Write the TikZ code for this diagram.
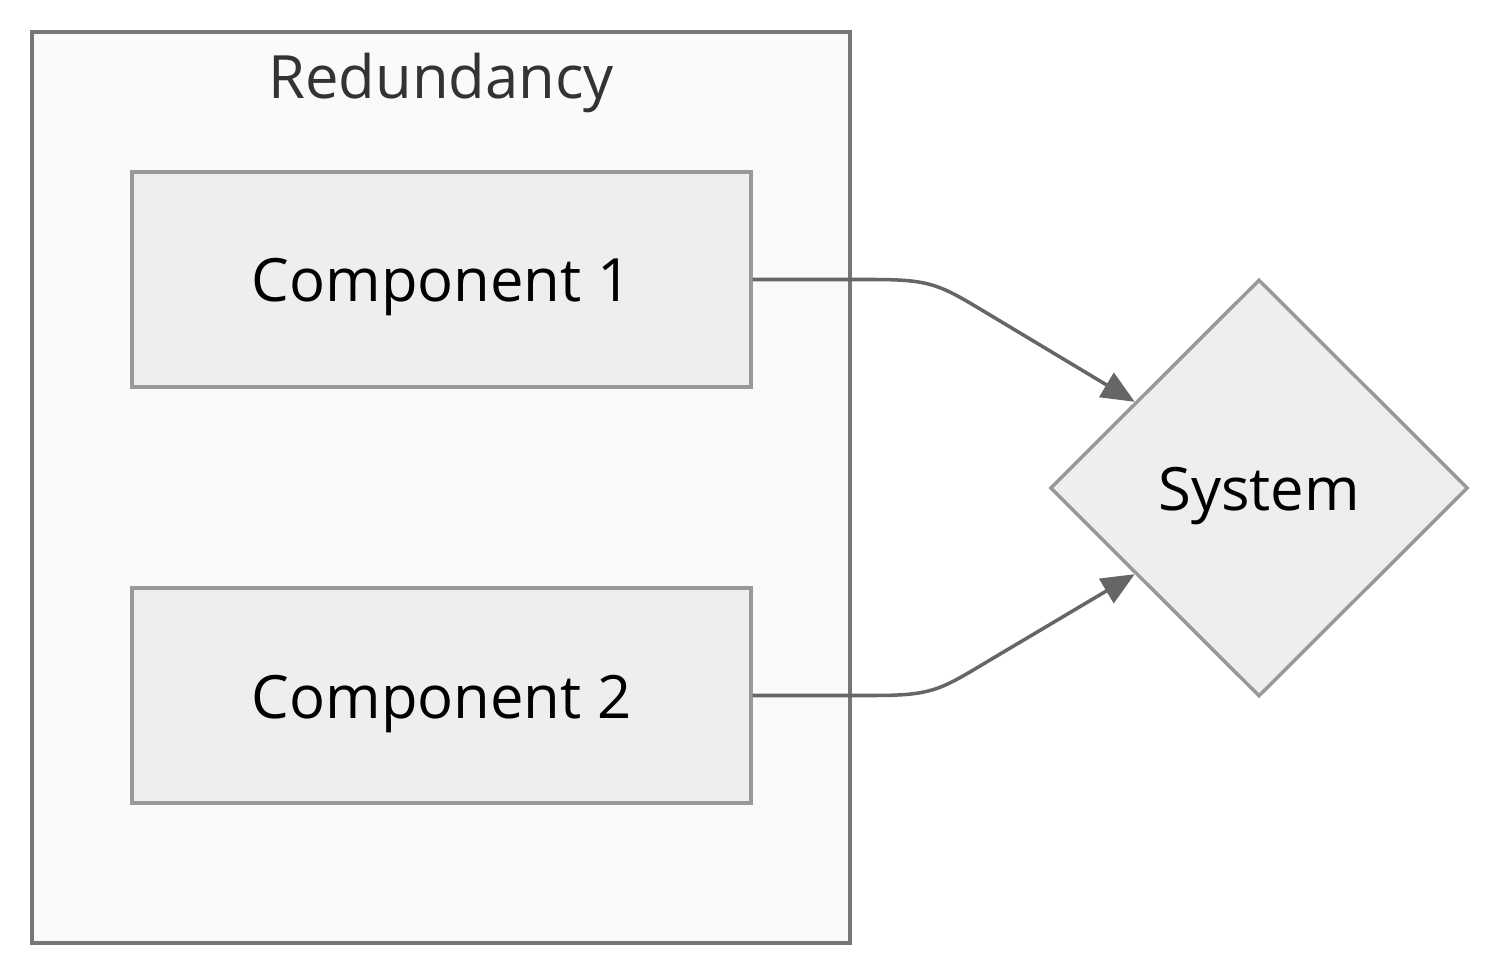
\documentclass[tikz,border=0pt]{standalone}
\usepackage{fontspec}
\setmainfont{Open Sans}
\usetikzlibrary{arrows.meta,calc,shapes.geometric}
\definecolor{groupfill}{HTML}{FAFAFA}
\definecolor{groupline}{HTML}{777777}
\definecolor{boxfill}{HTML}{EEEEEE}
\definecolor{boxline}{HTML}{999999}
\definecolor{edgeline}{HTML}{666666}
\definecolor{titletext}{HTML}{333333}
\tikzset{
	compbox/.style={draw=boxline, fill=boxfill, line width=2pt, minimum width=12.38cm, minimum height=4.3cm, inner sep=0pt, text height=0.95cm, text depth=0.05cm, font=\fontsize{34}{40}\selectfont},
	sysbox/.style={diamond, aspect=1, draw=boxline, fill=boxfill, line width=2pt, minimum width=8.36cm, minimum height=8.34cm, inner sep=0pt, text height=0.95cm, text depth=0.05cm, font=\fontsize{34}{40}\selectfont},
	link/.style={draw=edgeline, line width=2pt, -{Triangle[length=0.66cm,width=0.56cm]}}
}
\begin{document}
\begin{tikzpicture}[x=0.02cm, y=-0.02cm]
			%%%%% START %%%%%
			
			\useasboundingbox (0, 0) rectangle (1500, 976);
			
			\draw[draw=groupline, fill=groupfill, line width=2.2pt] (32, 32) rectangle (850, 943);
			\node[text=titletext, font=\fontsize{34}{40}\selectfont] (title) at (441, 83) {Redundancy};
			
			\node[compbox] (comp1) at (441.5, 279.5) {Component 1};
			\node[compbox] (comp2) at (441.5, 695.5) {Component 2};
			
			\node[sysbox] (sys) at (1259, 488) {System};
			
			\coordinate (in1) at ($(sys.west)!0.41!(sys.north)$);
			\coordinate (in2) at ($(sys.west)!0.41!(sys.south)$);
			
			\draw[link] (comp1.east) -- ++(120, 0) .. controls ++(60, 0) and ++(-50, -30) .. (990, 315) -- (in1);
			\draw[link] (comp2.east) -- ++(120, 0) .. controls ++(60, 0) and ++(-50, 30) .. (990, 660) -- (in2);
			
			%%%%% END %%%%%
\end{tikzpicture}
\end{document}
